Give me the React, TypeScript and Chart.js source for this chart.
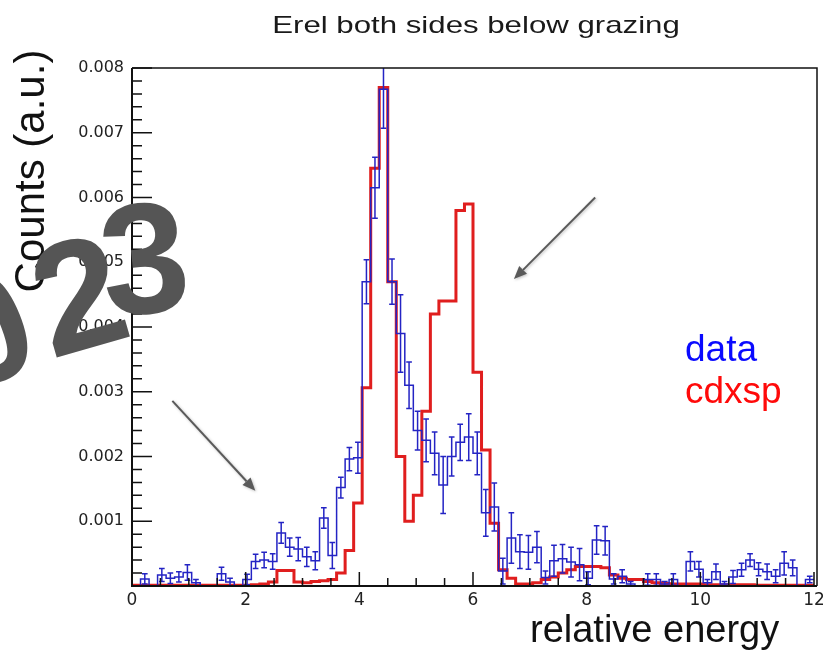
import React, { useEffect, useRef } from 'react';
import { Chart, registerables } from 'chart.js';

Chart.register(...registerables);

// Histogram binning shared by both series: 80 bins of 0.15 on [0, 12]
const X_MIN = 0;
const X_MAX = 12;
const BIN_WIDTH = 0.15;
const Y_MAX = 0.008;

// Measured spectrum ("data"), one value per bin
const dataCounts = [
  0, 0.00011, 0, 0.00017, 0.00012, 0.00014, 0.00021, 0.00005, 0, 0,
  0.00019, 0.00006, 0, 0.0001, 0.00038, 0.0004, 0.00038, 0.00082, 0.0006, 0.00057,
  0.00045, 0.00039, 0.00105, 0.00047, 0.00152, 0.00196, 0.00198, 0.0047, 0.00615, 0.00767,
  0.0047, 0.0039, 0.0031, 0.0024, 0.00225, 0.00205, 0.00156, 0.002, 0.00222, 0.0023,
  0.00205, 0.00113, 0.00122, 0.00023, 0.00074, 0.00053, 0.00052, 0.0006, 0.00013, 0.00039,
  0.00042, 0.00037, 0.00033, 0.00012, 0.00071, 0.0007, 0.00011, 0.00015, 0.00003, 0,
  0.0001, 0.0001, 0.00003, 0.0001, 0, 0.00038, 0.00026, 0.00005, 0.00022, 0.00003,
  0.00014, 0.00025, 0.0004, 0.00026, 0.00022, 0.00015, 0.00035, 0.00028, 0, 0.0001,
];

// Statistical uncertainty of each measured bin
const dataErrors = [
  0, 0.00008, 0, 0.0001, 0.00008, 0.00008, 0.00012, 0.00005, 0, 0,
  0.0001, 0.00006, 0, 0.00008, 0.00011, 0.00012, 0.00012, 0.00016, 0.00014, 0.00018,
  0.00015, 0.00014, 0.00016, 0.0002, 0.00016, 0.00018, 0.00024, 0.00034, 0.00047, 0.0006,
  0.00035, 0.0006, 0.00036, 0.0003, 0.00033, 0.00033, 0.00044, 0.0003, 0.00028, 0.00036,
  0.00033, 0.00036, 0.00037, 0.0002, 0.00039, 0.00026, 0.00026, 0.00024, 0.0001, 0.00024,
  0.00022, 0.00023, 0.00025, 0.0001, 0.00022, 0.00022, 0.00008, 0.0001, 0.00004, 0,
  0.00009, 0.00009, 0.00004, 0.00009, 0, 0.00015, 0.00012, 0.00005, 0.00012, 0.00004,
  0.0001, 0.0001, 0.0001, 0.0001, 0.00012, 0.0001, 0.00018, 0.00012, 0, 0.00005,
];

// Simulated spectrum ("cdxsp"), same binning
const cdxspCounts = [
  0.00001, 0.00001, 0.00001, 0.00001, 0.00001, 0.00001, 0.00001, 0.00001, 0.00001, 0.00001,
  0.00001, 0.00001, 0.00001, 0.00001, 0.00002, 0.00003, 0.00006, 0.00024, 0.00024, 0.00006,
  0.00005, 0.00007, 0.00008, 0.0001, 0.0002, 0.00055, 0.00128, 0.00306, 0.00645, 0.0077,
  0.0047, 0.002, 0.001, 0.0014, 0.0027, 0.0042, 0.0044, 0.0044, 0.0058, 0.0059,
  0.0033, 0.0021, 0.00097, 0.00025, 0.00012, 0.00003, 0.00003, 0.00005, 0.0001, 0.00014,
  0.0002, 0.00025, 0.0003, 0.0003, 0.0003, 0.00028, 0.00017, 0.00012, 0.0001, 0.0001,
  0.00007, 0.00005, 0.00004, 0.00003, 0.00003, 0.00003, 0.00003, 0.00002, 0.00002, 0.00002,
  0.00002, 0.00002, 0.00002, 0.00001, 0.00001, 0.00001, 0.00001, 0.00001, 0.00001, 0.00001,
];

// Axis tick labels
const xTickValues = [0, 2, 4, 6, 8, 10, 12];
const yTickValues = [0.001, 0.002, 0.003, 0.004, 0.005, 0.006, 0.007, 0.008];

// Annotation arrows, in data coordinates (tail -> head)
const arrowTails = [[0.71, 0.00286], [8.15, 0.006]];
const arrowHeads = [[2.17, 0.00147], [6.72, 0.00474]];

const TITLE = 'Erel both sides below grazing';
const X_TITLE = 'relative energy';
const Y_TITLE = 'Counts (a.u.)';
const LEGEND = [
  { text: 'data', color: '#0a0aff' },
  { text: 'cdxsp', color: '#ff0a0a' },
];
const STAMP = ['0', '2', '3'];

const SANS = '"Liberation Sans", Arial, Helvetica, sans-serif';

type Pt = { x: number; y: number | null };

// Bin i is drawn from its left edge; the final point closes the last bin.
function stepPoints(values: number[]): Pt[] {
  const pts: Pt[] = values.map((v, i) => ({ x: X_MIN + i * BIN_WIDTH, y: v }));
  pts.push({ x: X_MIN + values.length * BIN_WIDTH, y: values[values.length - 1] });
  return pts;
}

function errorBarPoints(values: number[], errors: number[]): Pt[] {
  const pts: Pt[] = [];
  values.forEach((v, i) => {
    const e = errors[i];
    if (!e) return;
    const c = X_MIN + (i + 0.5) * BIN_WIDTH;
    pts.push({ x: c, y: Math.max(0, v - e) }, { x: c, y: v + e }, { x: c, y: null });
  });
  return pts;
}

function capPoints(values: number[], errors: number[], half: number): Pt[] {
  const pts: Pt[] = [];
  values.forEach((v, i) => {
    const e = errors[i];
    if (!e) return;
    const c = X_MIN + (i + 0.5) * BIN_WIDTH;
    pts.push({ x: c - half, y: v + e }, { x: c + half, y: v + e }, { x: c, y: null });
    if (v - e > 0) pts.push({ x: c - half, y: v - e }, { x: c + half, y: v - e }, { x: c, y: null });
  });
  return pts;
}

const framePlugin = {
  id: 'rootFrame',
  afterDraw(chart: any) {
    const { ctx, chartArea: a, scales } = chart;
    const xs = scales.x;
    const ys = scales.y;
    ctx.save();

    // axis ticks pointing into the frame
    ctx.strokeStyle = '#111';
    ctx.lineWidth = 1.5;
    ctx.beginPath();
    for (let i = 0; i <= 40; i++) {
      const v = (Y_MAX * i) / 40;
      const y = ys.getPixelForValue(v);
      const len = i % 5 === 0 ? 20 : 10;
      ctx.moveTo(a.left, y);
      ctx.lineTo(a.left + len, y);
    }
    for (let i = 0; i <= 24; i++) {
      const v = X_MIN + ((X_MAX - X_MIN) * i) / 24;
      const x = xs.getPixelForValue(v);
      const len = i % 4 === 0 ? 14 : 8;
      ctx.moveTo(x, a.bottom);
      ctx.lineTo(x, a.bottom - len);
    }
    ctx.stroke();

    // frame
    ctx.lineWidth = 2;
    ctx.beginPath();
    ctx.moveTo(a.left, a.top);
    ctx.lineTo(a.left, a.bottom);
    ctx.lineTo(a.right + 3, a.bottom);
    ctx.stroke();
    ctx.lineWidth = 1.5;
    ctx.beginPath();
    ctx.moveTo(a.left, a.top);
    ctx.lineTo(a.right + 3, a.top);
    ctx.lineTo(a.right + 3, a.bottom);
    ctx.stroke();

    // title, stretched horizontally
    ctx.fillStyle = '#1a1a1a';
    ctx.font = `24px ${SANS}`;
    ctx.textAlign = 'center';
    ctx.textBaseline = 'alphabetic';
    ctx.save();
    ctx.translate(476, 33);
    ctx.scale(1.3, 1);
    ctx.fillText(TITLE, 0, 0);
    ctx.restore();

    // arrows
    ctx.save();
    ctx.strokeStyle = '#5a5a5a';
    ctx.fillStyle = '#5a5a5a';
    ctx.lineWidth = 2;
    ctx.shadowColor = 'rgba(0,0,0,0.25)';
    ctx.shadowBlur = 3;
    ctx.shadowOffsetX = 1;
    ctx.shadowOffsetY = 1;
    arrowTails.forEach((t, i) => {
      const h = arrowHeads[i];
      const x0 = xs.getPixelForValue(t[0]);
      const y0 = ys.getPixelForValue(t[1]);
      const x1 = xs.getPixelForValue(h[0]);
      const y1 = ys.getPixelForValue(h[1]);
      const ang = Math.atan2(y1 - y0, x1 - x0);
      const hl = 13;
      const hw = 5.5;
      const bx = x1 - hl * Math.cos(ang);
      const by = y1 - hl * Math.sin(ang);
      ctx.beginPath();
      ctx.moveTo(x0, y0);
      ctx.lineTo(bx, by);
      ctx.stroke();
      ctx.beginPath();
      ctx.moveTo(x1, y1);
      ctx.lineTo(bx + hw * Math.sin(ang), by - hw * Math.cos(ang));
      ctx.lineTo(bx - hw * Math.sin(ang), by + hw * Math.cos(ang));
      ctx.closePath();
      ctx.fill();
    });
    ctx.restore();

    // legend entries
    ctx.font = `37px ${SANS}`;
    ctx.textAlign = 'left';
    LEGEND.forEach((l, i) => {
      ctx.fillStyle = l.color;
      ctx.fillText(l.text, 685, 361 + i * 42);
    });

    // axis titles
    ctx.fillStyle = '#111';
    ctx.font = `38px ${SANS}`;
    ctx.fillText(X_TITLE, 530, 642);
    ctx.save();
    ctx.font = `42px ${SANS}`;
    ctx.translate(44, 171);
    ctx.rotate(-Math.PI / 2);
    ctx.textAlign = 'center';
    ctx.fillText(Y_TITLE, 0, 0);
    ctx.restore();

    // large year stamp across the axis
    const centers = [[-16, 326], [78, 292], [144, 256]];
    const tilts = [-22, -16, -6];
    ctx.fillStyle = '#555555';
    ctx.font = `bold 158px ${SANS}`;
    ctx.textAlign = 'center';
    STAMP.forEach((ch, i) => {
      ctx.save();
      ctx.translate(centers[i][0], centers[i][1]);
      ctx.rotate((tilts[i] * Math.PI) / 180);
      ctx.fillText(ch, 0, 57);
      ctx.restore();
    });

    ctx.restore();
  },
};

export default function App() {
  const ref = useRef<HTMLCanvasElement>(null);

  useEffect(() => {
    if (!ref.current) return;
    const blue = '#2424c4';
    const chart = new Chart(ref.current, {
      type: 'scatter',
      data: {
        datasets: [
          {
            label: 'data',
            data: stepPoints(dataCounts) as any,
            showLine: true,
            stepped: 'before',
            borderColor: blue,
            borderWidth: 1.5,
            pointRadius: 0,
            order: 0,
          },
          {
            label: 'data errors',
            data: errorBarPoints(dataCounts, dataErrors) as any,
            showLine: true,
            spanGaps: false,
            borderColor: blue,
            borderWidth: 1.5,
            pointRadius: 0,
            order: 0,
          },
          {
            label: 'data caps',
            data: capPoints(dataCounts, dataErrors, 0.05) as any,
            showLine: true,
            spanGaps: false,
            borderColor: blue,
            borderWidth: 1.5,
            pointRadius: 0,
            order: 0,
          },
          {
            label: 'cdxsp',
            data: stepPoints(cdxspCounts) as any,
            showLine: true,
            stepped: 'before',
            borderColor: '#e01e1e',
            borderWidth: 3,
            pointRadius: 0,
            order: 1,
          },
        ],
      },
      options: {
        responsive: false,
        animation: false,
        devicePixelRatio: 1,
        layout: { padding: { top: 68, right: 9, left: 0, bottom: 0 } },
        plugins: {
          legend: { display: false },
          tooltip: { enabled: false },
          title: { display: false },
        },
        scales: {
          x: {
            type: 'linear',
            min: X_MIN,
            max: X_MAX,
            afterBuildTicks: (s: any) => {
              s.ticks = xTickValues.map((v) => ({ value: v }));
            },
            afterFit: (s: any) => {
              s.height = 68;
              s.paddingLeft = 0;
              s.paddingRight = 0;
            },
            grid: { display: false },
            border: { display: false },
            ticks: {
              autoSkip: false,
              maxRotation: 0,
              padding: -4,
              color: '#222',
              font: { family: 'DejaVu Sans', size: 17 },
              callback: (v: any) => String(v),
            },
          },
          y: {
            type: 'linear',
            min: 0,
            max: Y_MAX,
            afterBuildTicks: (s: any) => {
              s.ticks = yTickValues.map((v) => ({ value: v }));
            },
            afterFit: (s: any) => {
              s.width = 132;
              s.paddingTop = 0;
              s.paddingBottom = 0;
            },
            grid: { display: false },
            border: { display: false },
            ticks: {
              padding: 0,
              color: '#222',
              font: { family: 'DejaVu Sans', size: 16 },
              callback: (v: any) => Number(v).toFixed(3),
            },
          },
        },
      },
      plugins: [framePlugin],
    });
    return () => chart.destroy();
  }, []);

  return (
    <div style={{ position: 'absolute', left: 0, top: 0, width: 823, height: 654, background: '#fff' }}>
      <canvas ref={ref} width={823} height={654} style={{ display: 'block' }} />
    </div>
  );
}
